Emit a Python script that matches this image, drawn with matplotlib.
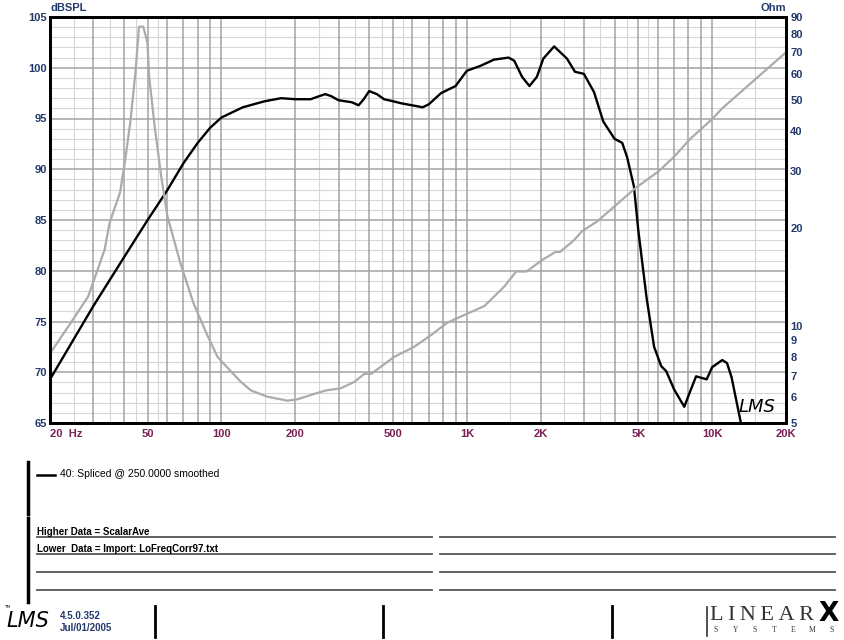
import matplotlib
matplotlib.use("Agg")
import matplotlib.pyplot as plt
from matplotlib.lines import Line2D

W, H = 845, 640

# SPL curve (Hz, dBSPL)
freq_spl = [20, 30, 40, 50, 60, 70, 80, 90, 100, 122, 150, 175, 200, 231, 250,
            265, 280, 300, 340, 362, 380, 400, 430, 460, 500, 540, 630, 660,
            700, 785, 900, 1000, 1140, 1290, 1480, 1560, 1680, 1800, 1930,
            2050, 2270, 2560, 2760, 3000, 3300, 3600, 4000, 4300, 4500, 4800,
            5000, 5400, 5800, 6200, 6500, 7000, 7700, 8100, 8600, 9500, 10000,
            11000, 11500, 12000, 13100, 14000]
spl_db = [69.3, 76.5, 81.3, 85.0, 87.9, 90.6, 92.6, 94.1, 95.1, 96.1, 96.7,
          97.0, 96.9, 96.9, 97.2, 97.4, 97.2, 96.8, 96.6, 96.3, 96.9, 97.7,
          97.4, 96.9, 96.7, 96.5, 96.2, 96.1, 96.4, 97.5, 98.2, 99.7, 100.2,
          100.8, 101.0, 100.7, 99.1, 98.2, 99.1, 100.9, 102.1, 100.9, 99.6,
          99.4, 97.6, 94.7, 93.0, 92.6, 91.2, 88.3, 84.0, 77.4, 72.5, 70.6,
          70.1, 68.3, 66.6, 68.0, 69.6, 69.3, 70.5, 71.2, 70.9, 69.5, 65.0,
          62.0]

# impedance curve (Hz, Ohm)
freq_imp = [20, 24.3, 28.6, 30.6, 33.4, 35, 38.6, 40.5, 42.6, 44.7, 46.1, 48.0,
            49.9, 50.7, 53.4, 56.8, 60.2, 68, 77, 87.5, 96.4, 106, 120, 132,
            154, 186, 204, 231, 265, 306, 348, 383, 408, 505, 610, 715, 830,
            980, 1180, 1420, 1590, 1750, 2040, 2300, 2400, 2740, 2950, 3400,
            4160, 4860, 6050, 7000, 8200, 10000, 11000, 20000]
imp_ohm = [8.2, 10.2, 12.3, 14.2, 17.2, 20.8, 25.8, 32.5, 43.2, 61.8, 84, 84,
           75, 59, 41.4, 28.9, 21.8, 15.6, 11.7, 9.35, 8.0, 7.4, 6.7, 6.3,
           6.03, 5.86, 5.92, 6.1, 6.3, 6.4, 6.7, 7.1, 7.1, 8.0, 8.6, 9.35,
           10.2, 10.8, 11.5, 13.2, 14.7, 14.7, 16.0, 16.9, 16.9, 18.4, 19.6,
           21.0, 24.0, 26.6, 30.0, 33.3, 38.0, 43.5, 47.0, 70.0]

x_ticks = [20, 50, 100, 200, 500, 1000, 2000, 5000, 10000, 20000]
x_labels = ['20  Hz', '50', '100', '200', '500', '1K', '2K', '5K', '10K', '20K']
db_ticks = [65, 70, 75, 80, 85, 90, 95, 100, 105]
ohm_ticks = [5, 6, 7, 8, 9, 10, 20, 30, 40, 50, 60, 70, 80, 90]

legend_text = '40: Spliced @ 250.0000 smoothed'
info_lines = ['Higher Data = ScalarAve', 'Lower  Data = Import: LoFreqCorr97.txt']

NAVY = '#22396b'
MAROON = '#7a1f52'
FONT = 'Liberation Sans'


def fx(x):
    return x / W


def fy(y):
    return 1 - y / H


fig = plt.figure(figsize=(8.45, 6.4), dpi=100)
ax = fig.add_axes([fx(50), fy(423), 736 / W, 406 / H])
ax.set_xscale('log')
ax.set_xlim(20, 20000)
ax.set_ylim(65, 105)

# grid, drawn by hand to get the two shades
for dec in [10, 100, 1000, 10000]:
    for k in [1, 2, 3, 4, 5, 6, 7, 8, 9]:
        f = k * dec
        if 20 < f < 20000:
            ax.axvline(f, color='#a3a3a3', lw=1.1, zorder=1)
    for k in [1.5, 2.5, 3.5, 4.5, 5.5]:
        f = k * dec
        if 20 < f < 20000:
            ax.axvline(f, color='#d6d6d6', lw=0.8, zorder=0.5)
for d in range(66, 105):
    if d % 5 == 0:
        ax.axhline(d, color='#a3a3a3', lw=1.1, zorder=1)
    else:
        ax.axhline(d, color='#d6d6d6', lw=0.8, zorder=0.5)

ax.plot(freq_spl, spl_db, color='black', lw=1.7, zorder=4)

ax.set_xticks(x_ticks)
ax.set_xticklabels(x_labels)
ax.xaxis.set_minor_locator(matplotlib.ticker.NullLocator())
ax.set_yticks(db_ticks)
ax.set_yticklabels([str(v) for v in db_ticks])
ax.tick_params(axis='x', length=0, pad=4, labelsize=8, labelcolor=MAROON)
ax.tick_params(axis='y', length=0, pad=2, labelsize=8, labelcolor=NAVY)
for lab in ax.get_xticklabels() + ax.get_yticklabels():
    lab.set_fontweight('bold')
    lab.set_family(FONT)
ax.get_xticklabels()[0].set_ha('left')

ax2 = ax.twinx()
ax2.set_yscale('log')
ax2.set_ylim(5, 90)
ax2.plot(freq_imp, imp_ohm, color='#ababab', lw=1.6, zorder=3)
ax2.set_yticks(ohm_ticks)
ax2.set_yticklabels([str(v) for v in ohm_ticks])
ax2.yaxis.set_minor_locator(matplotlib.ticker.NullLocator())
ax2.tick_params(axis='y', length=0, pad=3, labelsize=8, labelcolor=NAVY)
for lab in ax2.get_yticklabels():
    lab.set_fontweight('bold')
    lab.set_family(FONT)

for a in (ax, ax2):
    for s in a.spines.values():
        s.set_linewidth(2)
        s.set_color('black')
        s.set_zorder(6)

# in-plot logo
ax.text(0.986, 0.04, 'LMS', transform=ax.transAxes, ha='right', va='center',
        fontsize=13, style='italic', family='DejaVu Sans', fontweight='light',
        color='black', zorder=5)

fig.text(fx(51), fy(8), 'dBSPL', ha='left', va='center', fontsize=8,
         fontweight='bold', color=NAVY, family=FONT)
fig.text(fx(786), fy(8), 'Ohm', ha='right', va='center', fontsize=8,
         fontweight='bold', color=NAVY, family=FONT)


def fline(x0, y0, x1, y1, **kw):
    fig.add_artist(Line2D([fx(x0), fx(x1)], [fy(y0), fy(y1)],
                          transform=fig.transFigure, **kw))


# legend block
fline(28, 462, 28, 514, color='black', lw=2.5)
fline(37, 475, 55, 475, color='black', lw=1.8)
fig.text(fx(60), fy(474), legend_text, ha='left', va='center', fontsize=7.5,
         color='black', family=FONT)

# info block
fline(28, 518, 28, 602, color='black', lw=2.5)
for y in [537, 554, 572, 590]:
    fline(37, y, 432, y, color='#555555', lw=1.3)
    fline(440, y, 835, y, color='#555555', lw=1.3)
for y, txt in zip([532, 549], info_lines):
    fig.text(fx(37), fy(y), txt, ha='left', va='center', fontsize=7,
             fontweight='bold', color='black', family=FONT)

# footer
fig.text(fx(6), fy(621), 'LMS', ha='left', va='center', fontsize=15,
         style='italic', family='DejaVu Sans', fontweight='light', color='black')
fig.text(fx(4), fy(607), 'TM', ha='left', va='center', fontsize=3, color='black')
fig.text(fx(60), fy(616), '4.5.0.352', ha='left', va='center', fontsize=7,
         fontweight='bold', color=NAVY, family=FONT)
fig.text(fx(60), fy(628), 'Jul/01/2005', ha='left', va='center', fontsize=7,
         fontweight='bold', color=NAVY, family=FONT)
for x in [155, 383, 612]:
    fline(x, 606, x, 637, color='black', lw=2)
fline(707, 607, 707, 636, color='#333333', lw=1.2)
fig.text(fx(710), fy(615), 'L\u2009I\u2009N\u2009E\u2009A\u2009R', ha='left',
         va='center', fontsize=16, family='Liberation Serif', color='#333333')
fig.text(fx(839), fy(614), 'X', ha='right', va='center', fontsize=19,
         fontweight='bold', family='DejaVu Sans', color='black')
for i, ch in enumerate('SYSTEMS'):
    fig.text(fx(716 + i * 19.3), fy(630), ch, ha='center', va='center',
             fontsize=5.5, family='Liberation Serif', color='#333333')

fig.savefig('out.png', dpi=100)
